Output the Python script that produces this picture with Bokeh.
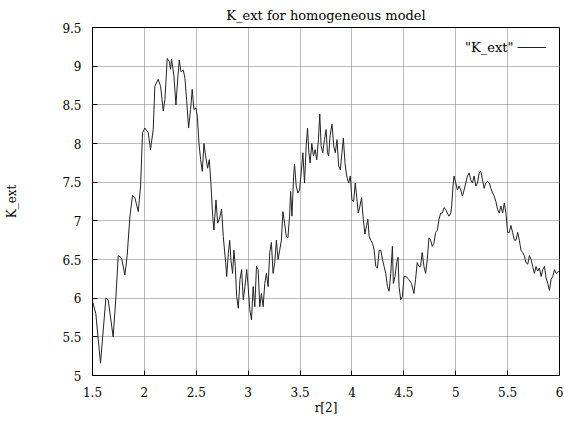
from bokeh.plotting import figure
from bokeh.models import FixedTicker, Label, Legend, LegendItem, Range1d
from bokeh.embed import file_html
from bokeh.resources import INLINE

# ---- data ----
r2 = [1.500, 1.532, 1.577, 1.629, 1.651, 1.699, 1.725, 1.748, 1.780, 1.812,
      1.834, 1.860, 1.886, 1.908, 1.941, 1.963, 1.982, 2.005, 2.037, 2.059,
      2.085, 2.101, 2.133, 2.156, 2.182, 2.198, 2.220, 2.240, 2.252, 2.262,
      2.285, 2.304, 2.323, 2.336, 2.352, 2.375, 2.391, 2.407, 2.426, 2.445,
      2.461, 2.477, 2.497, 2.510, 2.526, 2.542, 2.558, 2.574, 2.590, 2.609,
      2.625, 2.641, 2.658, 2.670, 2.690, 2.706, 2.722, 2.744, 2.760, 2.783,
      2.793, 2.809, 2.822, 2.834, 2.850, 2.863, 2.876, 2.889, 2.905, 2.921,
      2.937, 2.953, 2.969, 2.986, 3.000, 3.016, 3.032, 3.048, 3.064, 3.080,
      3.096, 3.112, 3.128, 3.144, 3.160, 3.176, 3.192, 3.208, 3.224, 3.240,
      3.256, 3.272, 3.288, 3.304, 3.320, 3.335, 3.351, 3.367, 3.383, 3.399,
      3.409, 3.422, 3.438, 3.447, 3.463, 3.479, 3.495, 3.511, 3.527, 3.543,
      3.559, 3.572, 3.585, 3.597, 3.613, 3.629, 3.645, 3.661, 3.677, 3.690,
      3.703, 3.719, 3.735, 3.751, 3.764, 3.776, 3.789, 3.808, 3.824, 3.840,
      3.856, 3.872, 3.888, 3.904, 3.917, 3.933, 3.949, 3.968, 3.984, 4.000,
      4.016, 4.032, 4.045, 4.061, 4.077, 4.093, 4.109, 4.125, 4.141, 4.153,
      4.166, 4.182, 4.198, 4.214, 4.230, 4.246, 4.262, 4.278, 4.294, 4.310,
      4.326, 4.342, 4.358, 4.374, 4.390, 4.399, 4.415, 4.431, 4.444, 4.454,
      4.470, 4.486, 4.502, 4.523, 4.548, 4.574, 4.597, 4.613, 4.629, 4.645,
      4.661, 4.677, 4.694, 4.710, 4.726, 4.742, 4.758, 4.774, 4.790, 4.806,
      4.823, 4.839, 4.855, 4.871, 4.887, 4.903, 4.919, 4.935, 4.952, 4.961,
      4.974, 4.984, 5.000, 5.016, 5.032, 5.048, 5.065, 5.081, 5.097, 5.113,
      5.129, 5.145, 5.161, 5.177, 5.194, 5.210, 5.226, 5.242, 5.258, 5.274,
      5.290, 5.306, 5.323, 5.339, 5.355, 5.371, 5.387, 5.403, 5.419, 5.435,
      5.452, 5.468, 5.484, 5.500, 5.516, 5.532, 5.548, 5.565, 5.581, 5.597,
      5.613, 5.629, 5.645, 5.661, 5.677, 5.694, 5.710, 5.726, 5.742, 5.758,
      5.774, 5.790, 5.806, 5.823, 5.839, 5.855, 5.871, 5.887, 5.903, 5.919,
      5.935, 5.952, 5.968, 5.994]

k_ext = [5.96, 5.80, 5.16, 6.00, 5.98, 5.50, 6.00, 6.55, 6.52, 6.30,
         6.55, 7.05, 7.33, 7.30, 7.12, 7.45, 8.14, 8.20, 8.14, 7.92,
         8.18, 8.74, 8.83, 8.74, 8.42, 8.57, 9.10, 9.06, 8.96, 9.09,
         8.87, 8.50, 8.87, 9.08, 8.93, 8.95, 8.84, 8.56, 8.20, 8.44,
         8.70, 8.44, 8.46, 8.35, 8.00, 7.79, 7.64, 8.00, 7.84, 7.68,
         7.79, 7.49, 7.06, 6.88, 7.27, 6.97, 7.02, 7.15, 6.80, 6.46,
         6.28, 6.58, 6.75, 6.49, 6.32, 6.62, 6.41, 6.02, 5.87, 6.24,
         6.37, 5.98, 6.15, 6.37, 6.15, 5.85, 5.72, 6.15, 5.89, 6.41,
         6.37, 5.89, 6.06, 5.89, 6.19, 6.32, 6.15, 6.59, 6.72, 6.32,
         6.46, 6.75, 6.50, 6.62, 6.75, 7.12, 6.97, 6.80, 6.78, 7.06,
         7.38, 7.06, 7.58, 7.73, 7.45, 7.36, 7.40, 7.62, 7.88, 7.49,
         7.97, 8.20, 7.88, 7.75, 8.00, 7.84, 7.92, 7.79, 8.05, 8.38,
         7.97, 7.88, 8.05, 8.18, 7.88, 7.84, 8.10, 8.25, 7.97, 7.88,
         8.05, 7.71, 7.66, 7.88, 8.07, 7.75, 7.58, 7.49, 7.58, 7.27,
         7.25, 7.49, 7.32, 7.10, 7.19, 7.30, 7.02, 6.83, 6.94, 7.02,
         6.80, 6.75, 6.71, 6.62, 6.41, 6.39, 6.62, 6.62, 6.50, 6.41,
         6.32, 6.15, 6.09, 6.32, 6.67, 6.19, 6.28, 6.46, 6.53, 6.15,
         5.98, 6.02, 6.28, 6.28, 6.24, 6.19, 6.06, 6.24, 6.46, 6.41,
         6.41, 6.59, 6.41, 6.32, 6.50, 6.78, 6.75, 6.67, 6.71, 6.85,
         6.88, 7.02, 7.10, 7.10, 7.17, 7.15, 7.10, 7.06, 7.10, 7.19,
         7.45, 7.58, 7.49, 7.40, 7.45, 7.40, 7.32, 7.40, 7.49, 7.58,
         7.62, 7.53, 7.49, 7.58, 7.45, 7.49, 7.62, 7.64, 7.53, 7.42,
         7.49, 7.51, 7.49, 7.42, 7.36, 7.32, 7.25, 7.15, 7.10, 7.19,
         7.10, 7.23, 7.10, 6.85, 6.85, 6.94, 6.85, 6.75, 6.75, 6.85,
         6.75, 6.62, 6.59, 6.55, 6.46, 6.44, 6.55, 6.50, 6.41, 6.32,
         6.41, 6.35, 6.39, 6.28, 6.37, 6.41, 6.26, 6.19, 6.10, 6.24,
         6.28, 6.37, 6.32, 6.35]

x_ticks = [1.5, 2, 2.5, 3, 3.5, 4, 4.5, 5, 5.5, 6]
x_tick_labels = ["1.5", "2", "2.5", "3", "3.5", "4", "4.5", "5", "5.5", "6"]
y_ticks = [5, 5.5, 6, 6.5, 7, 7.5, 8, 8.5, 9, 9.5]
y_tick_labels = ["5", "5.5", "6", "6.5", "7", "7.5", "8", "8.5", "9", "9.5"]

title_text = "K_ext for homogeneous model"
x_label = "r[2]"
y_label = "K_ext"
series_name = '"K_ext"'

FONT = "DejaVu Serif"

p = figure(width=564, height=421, output_backend="svg", toolbar_location=None,
           x_range=Range1d(1.5, 6), y_range=Range1d(5, 9.5),
           min_border_left=92, min_border_right=5, min_border_top=27,
           min_border_bottom=46)

p.title.text = title_text
p.title.align = "center"
p.title.vertical_align = "middle"
p.title.text_font = FONT
p.title.text_font_size = "13px"
p.title.text_font_style = "normal"
p.title.text_color = "black"
p.title.offset = 0
p.title.standoff = 8

p.background_fill_color = "white"
p.border_fill_color = "white"
p.outline_line_color = "black"
p.outline_line_width = 1

for ax in (p.xaxis[0], p.yaxis[0]):
    ax.axis_line_color = None
    ax.major_tick_in = 5
    ax.major_tick_out = 0
    ax.minor_tick_line_color = None
    ax.major_label_text_font = FONT
    ax.major_label_text_font_size = "12px"
    ax.major_label_text_color = "black"
    ax.axis_label_text_font = FONT
    ax.axis_label_text_font_size = "12px"
    ax.axis_label_text_font_style = "normal"
    ax.axis_label_text_color = "black"

p.xaxis.ticker = FixedTicker(ticks=x_ticks)
p.yaxis.ticker = FixedTicker(ticks=y_ticks)
p.xaxis.major_label_overrides = dict(zip(x_ticks, x_tick_labels))
p.yaxis.major_label_overrides = dict(zip(y_ticks, y_tick_labels))
p.xaxis.axis_label = x_label
p.xaxis.major_label_standoff = 11
p.xaxis.axis_label_standoff = 1
p.yaxis.major_label_standoff = 11
p.yaxis.axis_label = y_label
p.yaxis.axis_label_standoff = 40

p.grid.grid_line_color = "#777777"
p.grid.grid_line_dash = "1 1"
p.grid.grid_line_width = 1

line = p.line(r2, k_ext, line_color="#222222", line_width=1)

# legend: text then line sample (gnuplot style)
p.add_layout(Label(x=421, y=328, x_units="screen", y_units="screen",
                   text=series_name, text_font=FONT, text_font_size="13px",
                   text_align="right", text_baseline="middle",
                   text_color="black"))
legend = Legend(items=[LegendItem(label=" ", renderers=[line])],
                location=(425, 320), glyph_width=29, glyph_height=16,
                padding=0, margin=0, spacing=0, label_standoff=0,
                label_width=1, border_line_color=None,
                background_fill_alpha=0, label_text_font_size="2px")
p.add_layout(legend)

open("out.html", "w").write(file_html(p, INLINE))
